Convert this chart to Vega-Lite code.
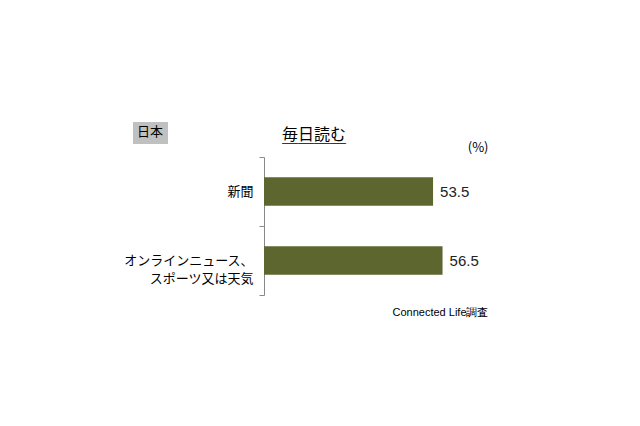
{
  "$schema": "https://vega.github.io/schema/vega-lite/v6.json",
  "description": "毎日読む (日本) - Connected Life調査",
  "autosize": {"type": "none"},
  "padding": {"left": 264, "top": 157, "right": 60, "bottom": 131},
  "width": 316,
  "height": 138,
  "background": "white",
  "title": {
    "text": "毎日読む",
    "subtitle": "────",
    "anchor": "start",
    "frame": "group",
    "dx": 18,
    "font": "Noto Sans CJK JP",
    "fontSize": 16,
    "fontWeight": "normal",
    "color": "#000000",
    "subtitleFont": "Noto Sans CJK JP",
    "subtitleFontSize": 16,
    "subtitleColor": "#000000",
    "subtitlePadding": -7,
    "offset": -30
  },
  "data": {
    "values": [
      {"item": "新聞", "value": 53.5},
      {"item": "オンラインニュース、スポーツ又は天気", "value": 56.5}
    ]
  },
  "encoding": {
    "y": {
      "field": "item",
      "type": "nominal",
      "sort": null,
      "scale": {"paddingInner": 0, "paddingOuter": 0},
      "axis": {
        "title": null,
        "tickBand": "extent",
        "domainColor": "#888888",
        "tickColor": "#888888",
        "tickSize": 5,
        "labelPadding": 6,
        "labelFont": "Noto Sans CJK JP",
        "labelFontSize": 13,
        "labelColor": "#000000",
        "labelLineHeight": 18,
        "labelLimit": 200,
        "labelExpr": "datum.value == 'オンラインニュース、スポーツ又は天気' ? ['オンラインニュース、', 'スポーツ又は天気'] : datum.value"
      }
    },
    "x": {
      "field": "value",
      "type": "quantitative",
      "scale": {"domain": [0, 100], "nice": false}
    }
  },
  "layer": [
    {
      "mark": {"type": "bar", "height": {"band": 0.41}},
      "encoding": {
        "color": {
          "datum": "日本",
          "scale": {"range": ["#5e6630"]},
          "legend": {
            "orient": "none",
            "legendX": -131,
            "legendY": -35,
            "title": "日本",
            "titleFont": "Noto Sans CJK JP",
            "titleFontSize": 13,
            "titleFontWeight": "normal",
            "titleColor": "#000000",
            "titlePadding": 0,
            "fillColor": "#c0c0c0",
            "padding": 4,
            "symbolSize": 0.01,
            "symbolOpacity": 0,
            "symbolStrokeWidth": 0,
            "labelOffset": 0,
            "labelFontSize": 0.1,
            "labelOpacity": 0,
            "labelExpr": "''",
            "rowPadding": 0
          }
        },
        "x": {
          "field": "value",
          "type": "quantitative",
          "axis": {
            "orient": "top",
            "title": "(%)",
            "labels": false,
            "ticks": false,
            "domain": false,
            "grid": false,
            "titleFont": "Noto Sans CJK JP",
            "titleFontSize": 13,
            "titleFontWeight": "normal",
            "titleColor": "#000000",
            "titleAnchor": null,
            "titleAlign": "right",
            "titleBaseline": "middle",
            "titleX": 224,
            "titleY": -10
          }
        }
      }
    },
    {
      "mark": {
        "type": "text",
        "align": "left",
        "baseline": "middle",
        "dx": 7,
        "font": "Liberation Sans",
        "fontSize": 15,
        "color": "#222222"
      },
      "encoding": {
        "text": {"field": "value", "type": "quantitative", "format": ".1f"},
        "x": {
          "field": "value",
          "type": "quantitative",
          "axis": {
            "orient": "bottom",
            "title": "Connected Life調査",
            "labels": false,
            "ticks": false,
            "domain": false,
            "grid": false,
            "titleFont": "Liberation Sans",
            "titleFontSize": 11,
            "titleFontWeight": "normal",
            "titleColor": "#000000",
            "titleAnchor": null,
            "titleAlign": "right",
            "titleBaseline": "middle",
            "titleX": 224,
            "titleY": 17
          }
        }
      }
    }
  ],
  "resolve": {"axis": {"x": "independent"}},
  "config": {"view": {"stroke": null}}
}
